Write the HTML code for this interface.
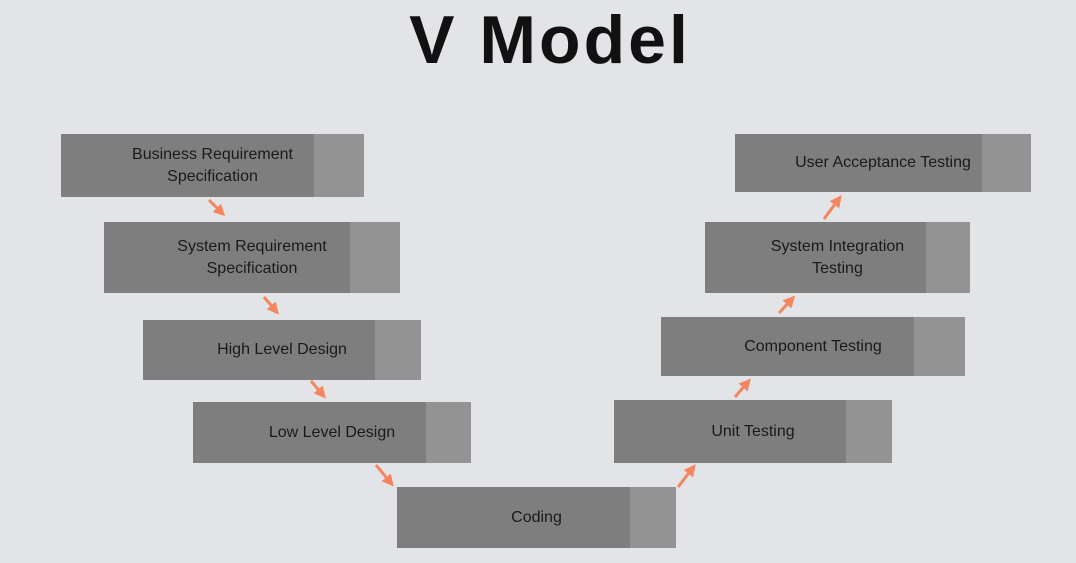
<!DOCTYPE html>
<html><head><style>
body{margin:0;width:1076px;height:563px;background:#e3e4e8;position:relative;overflow:hidden;font-family:"Liberation Sans",sans-serif}
h1{position:absolute;left:0;width:1100px;top:1px;margin:0;text-align:center;font-size:68px;letter-spacing:3px;font-weight:bold;color:#111}
.b{position:absolute;background:#7e7e7e;color:#1a1a1a;font-size:16px;line-height:22px;display:flex;align-items:center;justify-content:center;text-align:center;box-sizing:border-box}
.b span{position:absolute;top:0;bottom:0;right:0;background:#939393}
.b i{font-style:normal;position:relative}
svg{position:absolute;left:0;top:0}
</style></head><body>
<h1>V Model</h1>
<div class="b" style="left:61px;top:134px;width:303px;height:63px"><span style="width:50px"></span><i>Business Requirement<br>Specification</i></div>
<div class="b" style="left:104px;top:222px;width:296px;height:71px"><span style="width:50px"></span><i>System Requirement<br>Specification</i></div>
<div class="b" style="left:143px;top:320px;width:278px;height:60px"><span style="width:46px"></span><i>High Level Design</i></div>
<div class="b" style="left:193px;top:402px;width:278px;height:61px"><span style="width:45px"></span><i>Low Level Design</i></div>
<div class="b" style="left:397px;top:487px;width:279px;height:61px"><span style="width:46px"></span><i>Coding</i></div>
<div class="b" style="left:614px;top:400px;width:278px;height:63px"><span style="width:46px"></span><i>Unit Testing</i></div>
<div class="b" style="left:661px;top:317px;width:304px;height:59px"><span style="width:51px"></span><i>Component Testing</i></div>
<div class="b" style="left:705px;top:222px;width:265px;height:71px"><span style="width:44px"></span><i>System Integration<br>Testing</i></div>
<div class="b" style="left:735px;top:134px;width:296px;height:58px"><span style="width:49px"></span><i>User Acceptance Testing</i></div>
<svg width="1076" height="563">
<defs><marker id="a" markerWidth="4" markerHeight="4" refX="2" refY="2" orient="auto"><path d="M0,0L4,2L0,4z" fill="#f3855f"/></marker></defs>
<g stroke="#f3855f" stroke-width="3" marker-end="url(#a)">
<line x1="209" y1="200" x2="221" y2="212"/>
<line x1="264" y1="297" x2="275" y2="310"/>
<line x1="311" y1="381" x2="322" y2="394"/>
<line x1="376" y1="465" x2="390" y2="482"/>
<line x1="678" y1="487" x2="692" y2="469"/>
<line x1="735" y1="397" x2="747" y2="383"/>
<line x1="779" y1="313" x2="791" y2="300"/>
<line x1="824" y1="219" x2="838" y2="200"/>
</g></svg>
</body></html>
